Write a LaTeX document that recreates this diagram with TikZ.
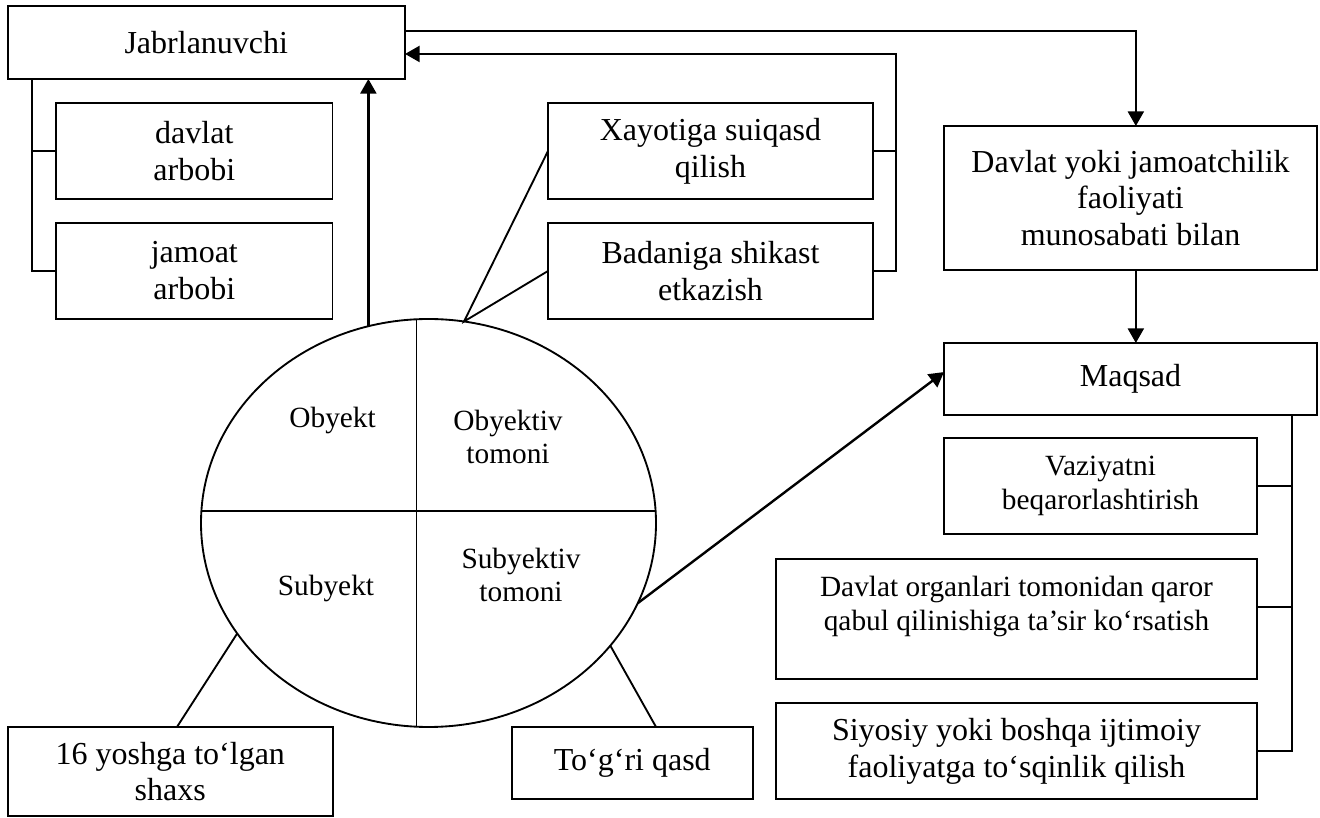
\documentclass[tikz,border=0pt]{standalone}
\usepackage{fontspec}
\setmainfont{Liberation Serif}
\usetikzlibrary{arrows.meta,positioning,calc,shapes.geometric}

\tikzset{
  box/.style 2 args={draw,line width=0.7pt,align=center,inner sep=0pt,outer sep=0pt,
    minimum width=#1*0.375pt,minimum height=#2*0.375pt,font=\fontsize{12}{13.8}\selectfont},
  smallfont/.style={align=center,font=\fontsize{11}{12.65}\selectfont},
  link/.style={line width=0.7pt},
  arr/.style={line width=0.9pt,-{Triangle[length=5.5pt,width=6pt]}}
}

\begin{document}
\begin{tikzpicture}[x=0.375pt,y=-0.375pt]
  \useasboundingbox (0,0) rectangle (1320,818);
  \node[box={397.4}{73}] (jab) at (206.3,42.5) {Jabrlanuvchi};
  \node[box={276.5}{96.3}] (dav) at (194.3,150.9) {davlat\\arbobi};
  \node[box={276.5}{96.3}] (jam) at (194.3,270.9) {jamoat\\arbobi};
  \node[box={325}{96}] (xay) at (710.5,151) {Xayotiga suiqasd\\qilish};
  \node[box={325}{96}] (bad) at (710.5,271) {Badaniga shikast\\etkazish};
  \node[box={373}{144}] (dyj) at (1130.5,198) {Davlat yoki jamoatchilik\\faoliyati\\munosabati bilan};
  \node[box={373}{72}] (maq) at (1130.5,379) {Maqsad};
  \node[box={313}{96},smallfont] (vaz) at (1100.5,486) {Vaziyatni\\beqarorlashtirish};
  \node[box={481}{120},smallfont] (dor) at (1016.5,619)
    {Davlat organlari tomonidan qaror\\qabul qilinishiga ta’sir ko‘rsatish\rule[-12pt]{0pt}{12pt}};
  \node[box={481}{96}] (siy) at (1016.5,751) {Siyosiy yoki boshqa ijtimoiy\\faoliyatga to‘sqinlik qilish};
  \node[box={324.6}{89}] (yosh) at (170.3,771.5) {16 yoshga to‘lgan\\shaxs};
  \node[box={240.6}{72}] (tq) at (632.3,763) {To‘g‘ri qasd};

  \node[draw,ellipse,link,inner sep=0pt,outer sep=0pt,minimum width=455*0.375pt,
    minimum height=408*0.375pt] (el) at (428.5,523) {};
  \draw[link] ([xshift=-4.5pt]el.north) -- ([xshift=-4.5pt]el.south);
  \draw[link] ([yshift=4.5pt]el.west) -- ([yshift=4.5pt]el.east);
  \node[smallfont] (obj) at (332.6,420) {Obyekt};
  \node[smallfont] (objt) at (508,437) {Obyektiv\\tomoni};
  \node[smallfont] (sub) at (326,588) {Subyekt};
  \node[smallfont] (subt) at (521,575) {Subyektiv\\tomoni};

  \draw[arr] ([yshift=4.3pt]jab.east) -| ([xshift=2pt]dyj.north);
  \draw[arr] (bad.east) -- ++(23,0) |- ([yshift=-4.3pt]jab.east);
  \draw[link] (xay.east) -- ++(23,0);
  \draw[link] ([xshift=9.2pt]jab.south west) |- (jam.west);
  \draw[link] (dav.west) -- ++(-24,0);
  \draw[arr] (el.107) -- (el.107 |- jab.south);
  \draw[link] (xay.west) -- (el.80) -- (bad.west);
  \draw[arr] ([xshift=2pt]dyj.south) -- ([xshift=2pt]maq.north);
  \draw[link] ([xshift=-9.4pt]maq.south east) |- (siy.east);
  \draw[link] (vaz.east) -- ++(35,0);
  \draw[link] ([yshift=4.5pt]dor.east) -- ++(35,0);
  \draw[link] (el.210) -- ([xshift=2.5pt]yosh.north);
  \draw[link] (el.326) -- ([xshift=8.9pt]tq.north);
  \draw[arr] (el.339) -- ([yshift=2.6pt]maq.west);
\end{tikzpicture}
\end{document}
